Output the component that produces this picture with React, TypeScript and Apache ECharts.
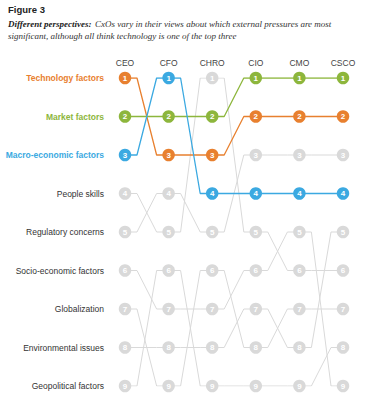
import React, { useEffect, useRef } from "react";
import * as echarts from "echarts";

const roles = ["CEO", "CFO", "CHRO", "CIO", "CMO", "CSCO"];
const factors = [
  "Technology factors",
  "Market factors",
  "Macro-economic factors",
  "People skills",
  "Regulatory concerns",
  "Socio-economic factors",
  "Globalization",
  "Environmental issues",
  "Geopolitical factors",
];
// rank of each factor per role (CEO, CFO, CHRO, CIO, CMO, CSCO)
const technologyRanks = [1, 3, 3, 2, 2, 2];
const marketRanks = [2, 2, 2, 1, 1, 1];
const macroRanks = [3, 1, 4, 4, 4, 4];
const peopleRanks = [4, 5, 1, 5, 6, 6];
const regulatoryRanks = [5, 4, 5, 3, 3, 3];
const socioRanks = [6, 7, 7, 6, 5, 9];
const globalizationRanks = [7, 9, 6, 8, 7, 7];
const environmentalRanks = [8, 8, 8, 7, 8, 5];
const geopoliticalRanks = [9, 6, 9, 9, 9, 8];

const allRanks = [
  technologyRanks,
  marketRanks,
  macroRanks,
  peopleRanks,
  regulatoryRanks,
  socioRanks,
  globalizationRanks,
  environmentalRanks,
  geopoliticalRanks,
];

const ORANGE = "#E8802F";
const GREEN = "#8DB63C";
const BLUE = "#3BA9E1";
const GRAY = "#d9d9d9";
const factorColors = [ORANGE, GREEN, BLUE, GRAY, GRAY, GRAY, GRAY, GRAY, GRAY];
const labelKeys = ["t", "m", "e", "g", "g", "g", "g", "g", "g"];

const STUB = 0.275;
const FONT = '"Liberation Sans", Arial, sans-serif';
const SERIF = '"Liberation Serif", "Times New Roman", serif';

function pathFor(ranks: number[]) {
  const pts: number[][] = [];
  ranks.forEach((r, i) => {
    if (i > 0) pts.push([i - STUB, r]);
    pts.push([i, r]);
    if (i < ranks.length - 1) pts.push([i + STUB, r]);
  });
  return pts;
}

export default function App() {
  const ref = useRef<HTMLDivElement>(null);
  useEffect(() => {
    if (!ref.current) return;
    const chart = echarts.init(ref.current, undefined, { renderer: "svg" });
    const series: any[] = [];
    allRanks.forEach((ranks, f) => {
      const hi = f < 3;
      series.push({
        type: "line",
        name: factors[f] + " line",
        data: pathFor(ranks),
        showSymbol: false,
        silent: true,
        lineStyle: { color: factorColors[f], width: hi ? 1.3 : 1 },
        z: hi ? 3 : 1,
      });
      series.push({
        type: "scatter",
        name: factors[f],
        data: ranks.map((r, i) => [i, r]),
        symbolSize: 12.5,
        silent: true,
        itemStyle: { color: factorColors[f], opacity: 1 },
        label: {
          show: true,
          position: "inside",
          formatter: (p: any) => String(p.value[1]),
          color: "#fff",
          fontSize: 8,
          fontWeight: "bold",
          fontFamily: FONT,
        },
        z: hi ? 4 : 2,
      });
    });
    chart.setOption({
      animation: false,
      grid: { left: 125, right: 22, top: 78, bottom: 14 },
      xAxis: {
        type: "value",
        position: "top",
        min: 0,
        max: 5,
        interval: 1,
        axisLine: { show: false },
        axisTick: { show: false },
        splitLine: { show: false },
        axisLabel: {
          margin: 11,
          formatter: (v: number) => roles[v] ?? "",
          fontSize: 8.5,
          color: "#444",
          fontFamily: FONT,
        },
      },
      yAxis: {
        type: "value",
        inverse: true,
        min: 1,
        max: 9,
        interval: 1,
        axisLine: { show: false },
        axisTick: { show: false },
        splitLine: { show: false },
        axisLabel: {
          margin: 21,
          formatter: (v: number) => `{${labelKeys[v - 1]}|${factors[v - 1]}}`,
          rich: {
            t: { color: ORANGE, fontWeight: "bold", fontSize: 8.5, fontFamily: FONT },
            m: { color: GREEN, fontWeight: "bold", fontSize: 8.5, fontFamily: FONT },
            e: { color: BLUE, fontWeight: "bold", fontSize: 8.5, fontFamily: FONT },
            g: { color: "#333", fontSize: 8.5, fontFamily: FONT },
          },
        },
      },
      graphic: [
        {
          type: "text",
          left: 8,
          top: 4,
          style: {
            text: "Figure 3",
            font: `bold 9.5px ${FONT}`,
            fill: "#222",
          },
        },
        {
          type: "text",
          left: 8,
          top: 18,
          style: {
            text:
              "{b|Different perspectives:} {i|CxOs vary in their views about which external pressures are most}\n{i|significant, although all think technology is one of the top three}",
            rich: {
              b: {
                fontFamily: SERIF,
                fontStyle: "italic",
                fontWeight: "bold",
                fontSize: 9,
                fill: "#222",
                lineHeight: 11.5,
              },
              i: {
                fontFamily: SERIF,
                fontStyle: "italic",
                fontSize: 9,
                fill: "#333",
                lineHeight: 11.5,
              },
            },
          },
        },
      ],
      series,
    });
    return () => chart.dispose();
  }, []);
  return (
    <div
      ref={ref}
      style={{ position: "fixed", left: 0, top: 0, width: 365, height: 400, background: "#fff" }}
    />
  );
}
